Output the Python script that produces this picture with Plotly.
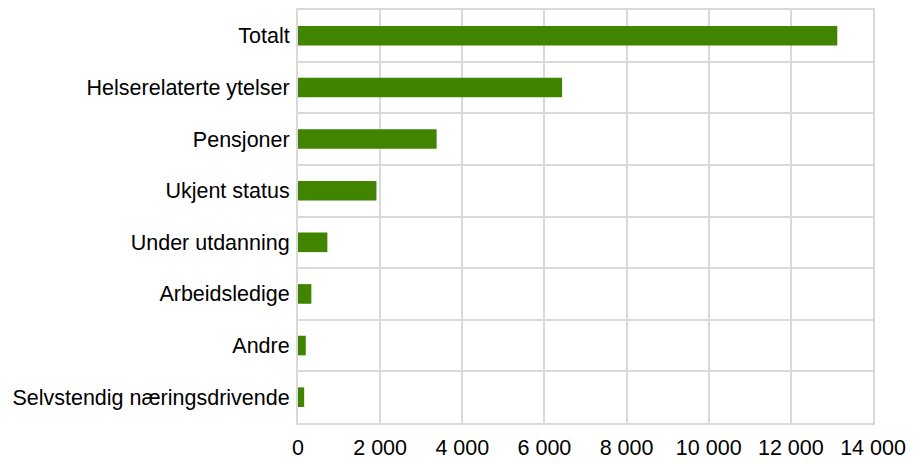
import plotly.graph_objects as go

### DATA ###
categories = ["Totalt", "Helserelaterte ytelser", "Pensjoner", "Ukjent status",
              "Under utdanning", "Arbeidsledige", "Andre", "Selvstendig næringsdrivende"]
values = [13130, 6430, 3375, 1910, 715, 325, 190, 150]
x_ticks = [0, 2000, 4000, 6000, 8000, 10000, 12000, 14000]

### FIGURE ###
grid = "#d9d9d9"
fig = go.Figure(go.Bar(
    x=values, y=categories, orientation="h",
    marker=dict(color="#408400", line=dict(width=0)),
    width=0.38,
))

# page body has an 8px margin, so the plot area is shifted accordingly
fig.update_layout(
    width=919, height=463,
    margin=dict(l=290, r=54, t=0, b=48),
    plot_bgcolor="white", paper_bgcolor="white",
    font=dict(family="Liberation Sans, Arial", size=21.5, color="black"),
    separators=", ",
    showlegend=False,
)
fig.update_xaxes(
    range=[0, 14000], tickvals=x_ticks, tickformat=",d",
    showgrid=True, gridcolor=grid, gridwidth=2,
    zeroline=False, showline=True, linecolor=grid, linewidth=2, mirror=True,
    ticks="", ticklabelstandoff=4, fixedrange=True,
)
fig.update_yaxes(
    type="category", categoryorder="array", categoryarray=categories[::-1],
    tickson="boundaries", showgrid=True, gridcolor=grid, gridwidth=2,
    showline=True, linecolor=grid, linewidth=2, mirror=True,
    ticks="", ticklabelstandoff=2,
)

fig.write_html("out.html")
